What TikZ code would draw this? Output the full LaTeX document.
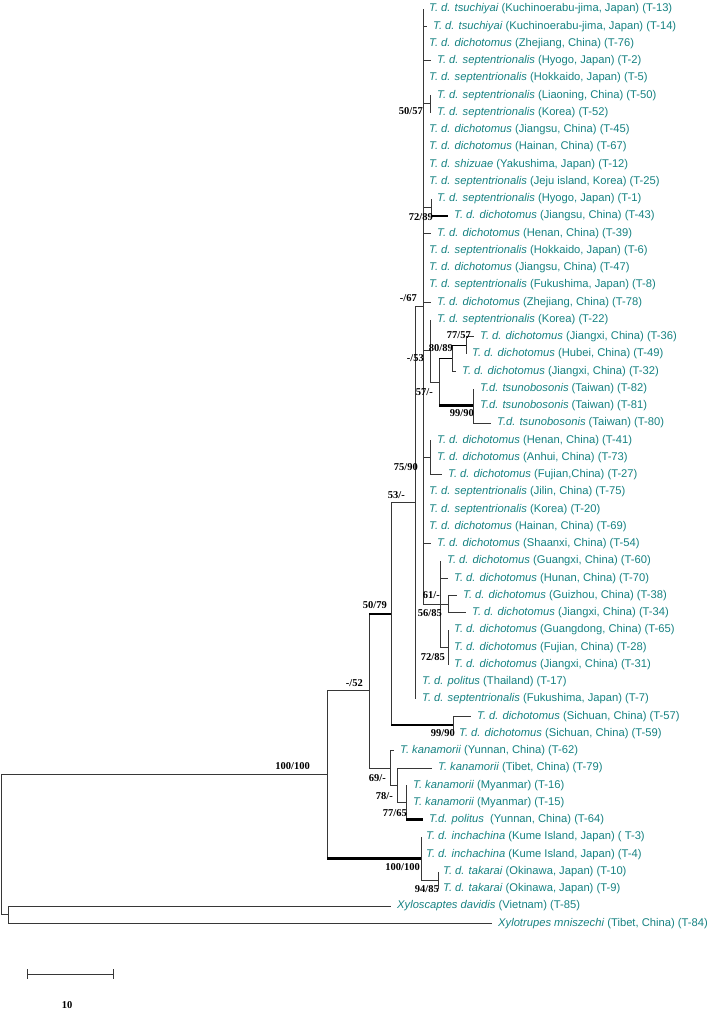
\documentclass[tikz,border=0pt]{standalone}
\usepackage{fontspec}
\setmainfont{Liberation Sans}
\newfontfamily\bsfont{Liberation Serif}
\definecolor{leafcol}{RGB}{22,130,130}
\definecolor{brcol}{RGB}{55,55,55}
\tikzset{
  br/.style={draw=brcol,line width=0.9pt},
  med/.style={draw=black,line width=1.6pt},
  thk/.style={draw=black,line width=2.6pt},
  leaf/.style={anchor=west,inner sep=0pt,text=leafcol,font=\fontsize{11.2}{13}\selectfont},
  bs/.style={anchor=east,inner sep=0pt,font=\bsfont\bfseries\fontsize{10.5}{12}\selectfont}
}
% id, parent, tip x, label x, row, text ; optional style of horizontal part
\newcommand{\mkleaf}[7][br]{%
  \coordinate (t#2) at (#4,{9+17.25*(#6-1)});
  \node[leaf] (l#2) at (#5,{9+17.25*(#6-1)}) {#7};
  \draw[br] (#3) -- (#3 |- t#2);
  \draw[#1] (#3 |- t#2) -- (t#2);}
\newcommand{\mkedge}[3][br]{%
  \draw[br] (#2) -- (#2 |- #3);
  \draw[#1] (#2 |- #3) -- (#3);}
\begin{document}
\begin{tikzpicture}[x=1pt,y=-1pt]
\useasboundingbox (0,0) rectangle (709,1010);
% internal nodes
\coordinate (root) at (1,844.7);
\coordinate (O) at (8,914.6);
\coordinate (A) at (327,774.8);
\coordinate (B) at (369,690.9);
\coordinate (C) at (391,613.8);
\coordinate (D) at (415,502.8);
\coordinate (V) at (423,306.6);
\coordinate (N1) at (430,103.9);
\coordinate (N2) at (431,207.4);
\coordinate (T) at (430,350.8);
\coordinate (S) at (439,382.0);
\coordinate (Q) at (452,358.3);
\coordinate (P) at (466,345.4);
\coordinate (R) at (473,405.75);
\coordinate (H) at (430,457.5);
\coordinate (G) at (440,604.1);
\coordinate (G1) at (448,604.1);
\coordinate (G2) at (448,647.25);
\coordinate (E) at (453,724.9);
\coordinate (K) at (390,768);
\coordinate (L) at (397,785.25);
\coordinate (M) at (406,802.5);
\coordinate (I) at (421,858.6);
\coordinate (J) at (438,880.1);
% internal edges
\mkedge{root}{A}
\mkedge{root}{O}
\mkedge{A}{B}
\mkedge[thk]{A}{I}
\mkedge[med]{B}{C}
\mkedge{B}{K}
\mkedge{C}{D}
\mkedge[thk]{C}{E}
\mkedge{D}{V}
\mkedge{V}{N1}
\mkedge{V}{N2}
\mkedge{V}{T}
\mkedge{V}{H}
\mkedge{V}{G}
\mkedge{T}{S}
\mkedge[med]{S}{Q}
\mkedge[thk]{S}{R}
\mkedge[med]{Q}{P}
\mkedge{G}{G1}
\mkedge{G}{G2}
\mkedge{K}{L}
\mkedge{L}{M}
\mkedge{I}{J}
% leaves
\mkleaf{13}{V}{423}{429}{1}{\textit{T. d. tsuchiyai} (Kuchinoerabu-jima, Japan) (T-13)}
\mkleaf{14}{V}{427}{433}{2}{\textit{T. d. tsuchiyai} (Kuchinoerabu-jima, Japan) (T-14)}
\mkleaf{76}{V}{423}{429}{3}{\textit{T. d. dichotomus} (Zhejiang, China) (T-76)}
\mkleaf{2}{V}{431}{437}{4}{\textit{T. d. septentrionalis} (Hyogo, Japan) (T-2)}
\mkleaf{5}{V}{423}{429}{5}{\textit{T. d. septentrionalis} (Hokkaido, Japan) (T-5)}
\mkleaf{50}{N1}{430}{437}{6}{\textit{T. d. septentrionalis} (Liaoning, China) (T-50)}
\mkleaf{52}{N1}{430}{437}{7}{\textit{T. d. septentrionalis} (Korea) (T-52)}
\mkleaf{45}{V}{423}{429}{8}{\textit{T. d. dichotomus} (Jiangsu, China) (T-45)}
\mkleaf{67}{V}{423}{429}{9}{\textit{T. d. dichotomus} (Hainan, China) (T-67)}
\mkleaf{12}{V}{423}{429}{10}{\textit{T. d. shizuae} (Yakushima, Japan) (T-12)}
\mkleaf{25}{V}{423}{429}{11}{\textit{T. d. septentrionalis} (Jeju island, Korea) (T-25)}
\mkleaf{1}{N2}{431}{437}{12}{\textit{T. d. septentrionalis} (Hyogo, Japan) (T-1)}
\mkleaf[thk]{43}{N2}{448}{454}{13}{\textit{T. d. dichotomus} (Jiangsu, China) (T-43)}
\mkleaf{39}{V}{431}{437}{14}{\textit{T. d. dichotomus} (Henan, China) (T-39)}
\mkleaf{6}{V}{423}{429}{15}{\textit{T. d. septentrionalis} (Hokkaido, Japan) (T-6)}
\mkleaf{47}{V}{423}{429}{16}{\textit{T. d. dichotomus} (Jiangsu, China) (T-47)}
\mkleaf{8}{V}{423}{429}{17}{\textit{T. d. septentrionalis} (Fukushima, Japan) (T-8)}
\mkleaf{78}{V}{431}{437}{18}{\textit{T. d. dichotomus} (Zhejiang, China) (T-78)}
\mkleaf{22}{T}{430}{437}{19}{\textit{T. d. septentrionalis} (Korea) (T-22)}
\mkleaf{36}{P}{474}{480}{20}{\textit{T. d. dichotomus} (Jiangxi, China) (T-36)}
\mkleaf{49}{P}{466}{472}{21}{\textit{T. d. dichotomus} (Hubei, China) (T-49)}
\mkleaf{32}{Q}{456}{462}{22}{\textit{T. d. dichotomus} (Jiangxi, China) (T-32)}
\mkleaf{82}{R}{473}{480}{23}{\textit{T.d. tsunobosonis} (Taiwan) (T-82)}
\mkleaf{81}{R}{473}{480}{24}{\textit{T.d. tsunobosonis} (Taiwan) (T-81)}
\mkleaf{80}{R}{491}{497}{25}{\textit{T.d. tsunobosonis} (Taiwan) (T-80)}
\mkleaf{41}{H}{430}{437}{26}{\textit{T. d. dichotomus} (Henan, China) (T-41)}
\mkleaf{73}{H}{430}{437}{27}{\textit{T. d. dichotomus} (Anhui, China) (T-73)}
\mkleaf{27}{H}{442}{448}{28}{\textit{T. d. dichotomus} (Fujian,China) (T-27)}
\mkleaf{75}{V}{423}{429}{29}{\textit{T. d. septentrionalis} (Jilin, China) (T-75)}
\mkleaf{20}{V}{423}{429}{30}{\textit{T. d. septentrionalis} (Korea) (T-20)}
\mkleaf{69}{V}{423}{429}{31}{\textit{T. d. dichotomus} (Hainan, China) (T-69)}
\mkleaf{54}{V}{431}{437}{32}{\textit{T. d. dichotomus} (Shaanxi, China) (T-54)}
\mkleaf{60}{G}{440}{447}{33}{\textit{T. d. dichotomus} (Guangxi, China) (T-60)}
\mkleaf{70}{G}{448}{454}{34}{\textit{T. d. dichotomus} (Hunan, China) (T-70)}
\mkleaf{38}{G1}{457}{463}{35}{\textit{T. d. dichotomus} (Guizhou, China) (T-38)}
\mkleaf{34}{G1}{466}{472}{36}{\textit{T. d. dichotomus} (Jiangxi, China) (T-34)}
\mkleaf{65}{G2}{448}{454}{37}{\textit{T. d. dichotomus} (Guangdong, China) (T-65)}
\mkleaf{28}{G2}{448}{454}{38}{\textit{T. d. dichotomus} (Fujian, China) (T-28)}
\mkleaf{31}{G2}{448}{454}{39}{\textit{T. d. dichotomus} (Jiangxi, China) (T-31)}
\mkleaf{17}{D}{415}{422}{40}{\textit{T. d. politus} (Thailand) (T-17)}
\mkleaf{7}{D}{415}{422}{41}{\textit{T. d. septentrionalis} (Fukushima, Japan) (T-7)}
\mkleaf{57}{E}{471}{477}{42}{\textit{T. d. dichotomus} (Sichuan, China) (T-57)}
\mkleaf{59}{E}{453}{459}{43}{\textit{T. d. dichotomus} (Sichuan, China) (T-59)}
\mkleaf{62}{K}{394}{400}{44}{\textit{T. kanamorii} (Yunnan, China) (T-62)}
\mkleaf{79}{L}{432}{438}{45}{\textit{T. kanamorii} (Tibet, China) (T-79)}
\mkleaf{16}{M}{406}{413}{46}{\textit{T. kanamorii} (Myanmar) (T-16)}
\mkleaf{15}{M}{406}{413}{47}{\textit{T. kanamorii} (Myanmar) (T-15)}
\mkleaf[thk]{64}{M}{423}{429}{48}{\textit{T.d. politus}~ (Yunnan, China) (T-64)}
\mkleaf{3}{I}{421}{426}{49}{\textit{T. d. inchachina} (Kume Island, Japan) ( T-3)}
\mkleaf{4}{I}{421}{426}{50}{\textit{T. d. inchachina} (Kume Island, Japan) (T-4)}
\mkleaf{10}{J}{438}{443}{51}{\textit{T. d. takarai} (Okinawa, Japan) (T-10)}
\mkleaf{9}{J}{438}{443}{52}{\textit{T. d. takarai} (Okinawa, Japan) (T-9)}
\mkleaf{85}{O}{391}{397}{53}{\textit{Xyloscaptes davidis} (Vietnam) (T-85)}
\mkleaf{84}{O}{492}{498}{54}{\textit{Xylotrupes mniszechi} (Tibet, China) (T-84)}
% bootstrap labels
\node[bs] (b1) at (423,111) {50/57};
\node[bs] (b2) at (433,217) {72/89};
\node[bs] (b3) at (417,298) {-/67};
\node[bs] (b4) at (471,335) {77/57};
\node[bs] (b5) at (453,348) {80/89};
\node[bs] (b6) at (424,358) {-/53};
\node[bs] (b7) at (433,392) {57/-};
\node[bs] (b8) at (474,413) {99/90};
\node[bs] (b9) at (418,467) {75/90};
\node[bs] (b10) at (405,495) {53/-};
\node[bs] (b11) at (440,595) {61/-};
\node[bs] (b12) at (442,613) {56/85};
\node[bs] (b13) at (445,657) {72/85};
\node[bs] (b14) at (387,605) {50/79};
\node[bs] (b15) at (363,683) {-/52};
\node[bs] (b16) at (455,733) {99/90};
\node[bs] (b17) at (310,766) {100/100};
\node[bs] (b18) at (386,778) {69/-};
\node[bs] (b19) at (393,796) {78/-};
\node[bs] (b20) at (407,813) {77/65};
\node[bs] (b21) at (420,867) {100/100};
\node[bs] (b22) at (439,889) {94/85};
% scale bar
\coordinate (s1) at (27,974);
\coordinate (s2) at (113,974);
\coordinate (s1a) at (27,969);
\coordinate (s1b) at (27,979);
\coordinate (s2a) at (113,969);
\coordinate (s2b) at (113,979);
\draw[br] (s1) -- (s2);
\draw[br] (s1a) -- (s1b);
\draw[br] (s2a) -- (s2b);
\node[bs,anchor=center] (sl) at (67,1005) {10};
\end{tikzpicture}
\end{document}
